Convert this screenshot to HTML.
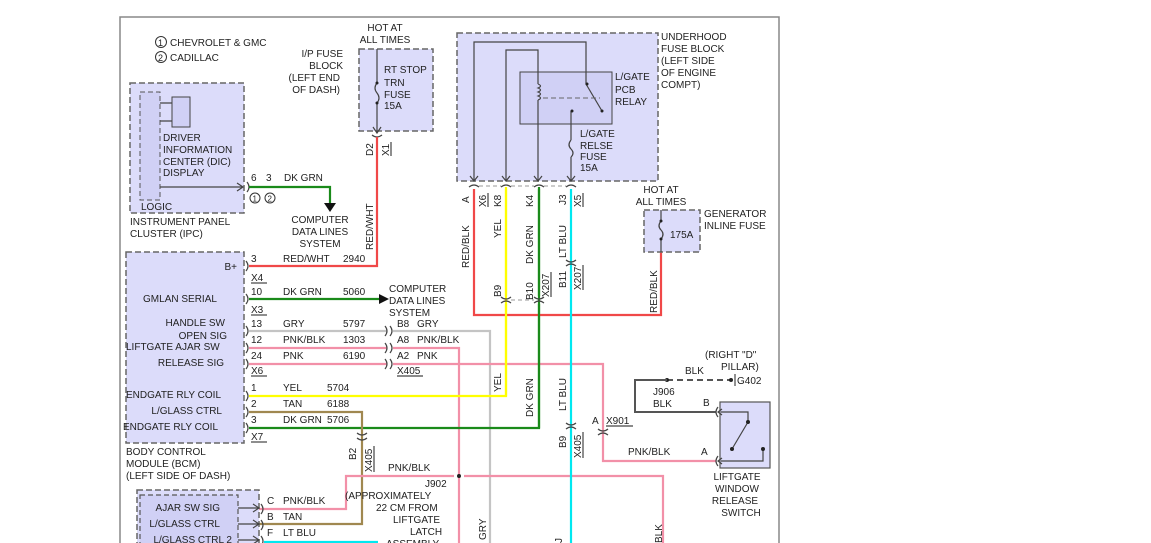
<!DOCTYPE html>
<html><head><meta charset="utf-8"><style>
html,body{margin:0;padding:0;background:#fff;}
svg{display:block;font-family:"Liberation Sans",Arial,sans-serif;font-size:10px;fill:#222;}
.bx{fill:#dcdcfa;stroke:#666;stroke-width:1.5;stroke-dasharray:6 3;}
.ln{fill:none;stroke-width:2.2;}
.k{fill:none;stroke:#444;stroke-width:1.2;}
text{fill:#222;}
</style></head><body>
<svg width="1151" height="543" viewBox="0 0 1151 543" xmlns="http://www.w3.org/2000/svg">
<path d="M120,543 V17 H779 V543" fill="none" stroke="#888" stroke-width="1.5"/>

<circle cx="161" cy="42" r="5.5" fill="none" stroke="#333"/><text x="158" y="46" font-size="9">1</text>
<text x="170" y="46">CHEVROLET &amp; GMC</text>
<circle cx="161" cy="57" r="5.5" fill="none" stroke="#333"/><text x="158" y="61" font-size="9">2</text>
<text x="170" y="61">CADILLAC</text>

<rect class="bx" x="130" y="83" width="114" height="130"/>
<rect x="140" y="92" width="20" height="108" fill="#d0d0f5" stroke="#555" stroke-dasharray="5 3"/>
<rect x="172" y="97" width="18" height="30" fill="#d0d0f5" stroke="#444"/>
<path class="k" d="M160,103H172M160,121H172"/>
<text x="163" y="141">DRIVER</text><text x="163" y="153">INFORMATION</text><text x="163" y="165">CENTER (DIC)</text><text x="163" y="176">DISPLAY</text>
<text x="141" y="210">LOGIC</text>
<path class="k" d="M160,187H243M237,183L243,187L237,191"/>
<path class="k" d="M247,182Q251,187 247,192"/>
<text x="251" y="181">6</text><text x="266" y="181">3</text><text x="284" y="181">DK GRN</text>
<circle cx="255" cy="198" r="5" fill="none" stroke="#333"/><text x="252.5" y="201.5" font-size="8">1</text>
<circle cx="270" cy="198" r="5" fill="none" stroke="#333"/><text x="267.5" y="201.5" font-size="8">2</text>
<path class="ln" stroke="#1a8a1a" d="M249,187H330V205"/>
<path d="M324,203H336L330,212Z" fill="#111"/>
<text x="320" y="223" text-anchor="middle">COMPUTER</text><text x="320" y="235" text-anchor="middle">DATA LINES</text><text x="320" y="247" text-anchor="middle">SYSTEM</text>
<text x="130" y="225">INSTRUMENT PANEL</text><text x="130" y="237">CLUSTER (IPC)</text>

<text x="343" y="57" text-anchor="end">I/P FUSE</text><text x="343" y="69" text-anchor="end">BLOCK</text><text x="340" y="81" text-anchor="end">(LEFT END</text><text x="340" y="93" text-anchor="end">OF DASH)</text>
<text x="385" y="31" text-anchor="middle">HOT AT</text><text x="385" y="43" text-anchor="middle">ALL TIMES</text>
<rect class="bx" x="359" y="49" width="74" height="82"/>
<path class="k" d="M377,49V83M377,103V133M373,127L377,133L381,127"/>
<path class="k" d="M377,83Q373,88 377,93Q381,98 377,103"/>
<circle cx="377" cy="83" r="1.5" fill="#222"/><circle cx="377" cy="103" r="1.5" fill="#222"/>
<text x="384" y="73">RT STOP</text><text x="384" y="86">TRN</text><text x="384" y="98">FUSE</text><text x="384" y="109">15A</text>
<path class="k" d="M372,135Q377,139 382,135"/>
<text transform="translate(373,156) rotate(-90)">D2</text>
<text transform="translate(389,156) rotate(-90)">X1</text><path class="k" d="M391,142V156"/>
<path class="ln" stroke="#f04848" d="M377,137V266H249"/>
<text transform="translate(373,250) rotate(-90)">RED/WHT</text>

<rect class="bx" x="126" y="252" width="118" height="191"/>
<text x="237" y="270" text-anchor="end">B+</text>
<text x="180" y="302" text-anchor="middle">GMLAN SERIAL</text>
<text x="225" y="326" text-anchor="end">HANDLE SW</text>
<text x="227" y="339" text-anchor="end">OPEN SIG</text>
<text x="126" y="350">LIFTGATE AJAR SW</text>
<text x="224" y="366" text-anchor="end">RELEASE SIG</text>
<text x="126" y="398">ENDGATE RLY COIL</text>
<text x="222" y="414" text-anchor="end">L/GLASS CTRL</text>
<text x="123" y="430">ENDGATE RLY COIL</text>
<text x="126" y="455">BODY CONTROL</text><text x="126" y="467">MODULE (BCM)</text><text x="126" y="479">(LEFT SIDE OF DASH)</text>
<g class="k">
<path d="M246,261Q250,266 246,271"/><path d="M246,294Q250,299 246,304"/><path d="M246,326Q250,331 246,336"/>
<path d="M246,343Q250,348 246,353"/><path d="M246,359Q250,364 246,369"/><path d="M246,391Q250,396 246,401"/>
<path d="M246,407Q250,412 246,417"/><path d="M246,423Q250,428 246,433"/>
</g>
<text x="251" y="262">3</text><text x="283" y="262">RED/WHT</text><text x="343" y="262">2940</text>
<text x="251" y="281">X4</text><path class="k" d="M251,283H267"/>
<text x="251" y="295">10</text><text x="283" y="295">DK GRN</text><text x="343" y="295">5060</text>
<path class="ln" stroke="#1a8a1a" d="M249,299H380"/><path d="M379,294L389,299L379,304Z" fill="#111"/>
<text x="251" y="313">X3</text><path class="k" d="M251,315H267"/>
<text x="389" y="292">COMPUTER</text><text x="389" y="304">DATA LINES</text><text x="389" y="316">SYSTEM</text>
<text x="251" y="327">13</text><text x="283" y="327">GRY</text><text x="343" y="327">5797</text>
<text x="251" y="343">12</text><text x="283" y="343">PNK/BLK</text><text x="343" y="343">1303</text>
<text x="251" y="359">24</text><text x="283" y="359">PNK</text><text x="343" y="359">6190</text>
<text x="251" y="374">X6</text><path class="k" d="M251,376H267"/>
<path class="ln" stroke="#c4c4c4" d="M249,331H387M393,331H490V543"/>
<path class="ln" stroke="#f290a8" d="M249,348H387M393,348H459V543"/>
<path class="ln" stroke="#f290a8" d="M249,364H387M393,364H603V461H716"/>
<g class="k"><path d="M385,326Q389,331 385,336M390,326Q394,331 390,336"/><path d="M385,343Q389,348 385,353M390,343Q394,348 390,353"/><path d="M385,359Q389,364 385,369M390,359Q394,364 390,369"/></g>
<text x="397" y="327">B8</text><text x="417" y="327">GRY</text>
<text x="397" y="343">A8</text><text x="417" y="343">PNK/BLK</text>
<text x="397" y="359">A2</text><text x="417" y="359">PNK</text>
<text x="397" y="374">X405</text><path class="k" d="M397,376H423"/>

<text x="251" y="391">1</text><text x="283" y="391">YEL</text><text x="327" y="391">5704</text>
<text x="251" y="407">2</text><text x="283" y="407">TAN</text><text x="327" y="407">6188</text>
<text x="251" y="423">3</text><text x="283" y="423">DK GRN</text><text x="327" y="423">5706</text>
<text x="251" y="440">X7</text><path class="k" d="M251,442H267"/>
<path class="ln" stroke="#ffff00" d="M249,396H506V187"/>
<path class="ln" stroke="#1a8a1a" d="M249,428H539V187"/>
<path class="ln" stroke="#a08850" d="M249,412H362V524H249"/>
<path class="k" d="M357,433Q362,437 367,433M357,438Q362,442 367,438"/>
<text transform="translate(356,460) rotate(-90)">B2</text>
<text transform="translate(372,472) rotate(-90)">X405</text><path class="k" d="M374,446V472"/>

<path class="ln" stroke="#f290a8" d="M249,509H346V476H454M464,476H663V543"/>
<circle cx="459" cy="476" r="2" fill="#222"/>
<text x="388" y="471">PNK/BLK</text><text x="425" y="487">J902</text>
<text x="345" y="499">(APPROXIMATELY</text><text x="376" y="511">22 CM FROM</text><text x="393" y="523">LIFTGATE</text><text x="410" y="535">LATCH</text><text x="386" y="547">ASSEMBLY</text>

<rect class="bx" x="137" y="490" width="122" height="60"/>
<rect x="140" y="495" width="98" height="60" fill="#d0d0f5" stroke="#555" stroke-width="1.2" stroke-dasharray="5 3"/>
<text x="220" y="511" text-anchor="end">AJAR SW SIG</text><text x="220" y="527" text-anchor="end">L/GLASS CTRL</text><text x="232" y="543" text-anchor="end">L/GLASS CTRL 2</text>
<path class="k" d="M238,508H259M253,504L259,508L253,512M238,524H259M253,520L259,524L253,528M238,540H259M253,536L259,540L253,544"/>
<g class="k"><path d="M261,504Q265,509 261,514"/><path d="M261,520Q265,525 261,530"/><path d="M261,536Q265,541 261,546"/></g>
<text x="267" y="504">C</text><text x="283" y="504">PNK/BLK</text>
<text x="267" y="520">B</text><text x="283" y="520">TAN</text>
<text x="267" y="536">F</text><text x="283" y="536">LT BLU</text>
<path class="ln" stroke="#00e8f0" d="M264,542H378"/>

<rect class="bx" x="457" y="33" width="201" height="148"/>
<rect x="520" y="72" width="92" height="52" fill="#d0d0f5" stroke="#444"/>
<path class="k" d="M474,181V42H586V84L602,111M506,181V50H538V84M538,100V181M571,181V157M571,140V111"/>
<path class="k" d="M538,84q5,2 0,4q5,2 0,4q5,2 0,4q5,2 0,4"/>
<path d="M543,98H600" stroke="#666" stroke-dasharray="5 3" fill="none"/>
<circle cx="587" cy="84" r="1.5" fill="#222"/><circle cx="602" cy="111" r="1.5" fill="#222"/><circle cx="572" cy="111" r="1.5" fill="#222"/>
<path class="k" d="M571,140Q567,145 571,149Q575,153 571,157"/>
<g class="k"><path d="M470,176L474,181L478,176M502,176L506,181L510,176M534,176L538,181L542,176M567,176L571,181L575,176"/></g>
<g class="k"><path d="M469,187Q474,183 479,187M501,187Q506,183 511,187M534,187Q539,183 544,187M566,187Q571,183 576,187"/></g>
<path d="M479,186H501M511,186H534M544,186H566" stroke="#999" stroke-dasharray="4 3" fill="none"/>
<text x="615" y="80">L/GATE</text><text x="615" y="93">PCB</text><text x="615" y="105">RELAY</text>
<text x="580" y="137">L/GATE</text><text x="580" y="149">RELSE</text><text x="580" y="160">FUSE</text><text x="580" y="171">15A</text>
<text x="661" y="40">UNDERHOOD</text><text x="661" y="52">FUSE BLOCK</text><text x="661" y="64">(LEFT SIDE</text><text x="661" y="76">OF ENGINE</text><text x="661" y="88">COMPT)</text>
<text transform="translate(469,203) rotate(-90)">A</text>
<text transform="translate(486,207) rotate(-90)">X6</text><path class="k" d="M488,193V207"/>
<text transform="translate(501,207) rotate(-90)">K8</text>
<text transform="translate(533,207) rotate(-90)">K4</text>
<text transform="translate(566,205) rotate(-90)">J3</text>
<text transform="translate(581,207) rotate(-90)">X5</text><path class="k" d="M583,193V207"/>
<path class="ln" stroke="#f04848" d="M474,189V315H661V232"/>
<path class="ln" stroke="#ffff00" d="M506,189V296M506,304V396"/>
<path class="ln" stroke="#1a8a1a" d="M539,189V296M539,304V428"/>
<path class="ln" stroke="#00e8f0" d="M571,189V543"/>
<text transform="translate(469,268) rotate(-90)">RED/BLK</text>
<text transform="translate(501,238) rotate(-90)">YEL</text>
<text transform="translate(533,264) rotate(-90)">DK GRN</text>
<text transform="translate(566,258) rotate(-90)">LT BLU</text>
<g class="k"><path d="M501,297Q506,301 511,297M501,303Q506,299 511,303"/><path d="M534,297Q539,301 544,297M534,303Q539,299 544,303"/><path d="M566,260Q571,264 576,260M566,266Q571,262 576,266"/></g>
<path d="M511,300H534" stroke="#999" stroke-dasharray="4 3" fill="none"/>
<text transform="translate(501,297) rotate(-90)">B9</text>
<text transform="translate(533,300) rotate(-90)">B10</text>
<text transform="translate(549,297) rotate(-90)">X207</text><path class="k" d="M551,272V297"/>
<text transform="translate(566,288) rotate(-90)">B11</text>
<text transform="translate(581,290) rotate(-90)">X207</text><path class="k" d="M583,265V290"/>
<text transform="translate(501,392) rotate(-90)">YEL</text>
<text transform="translate(533,417) rotate(-90)">DK GRN</text>
<text transform="translate(566,411) rotate(-90)">LT BLU</text>
<path class="k" d="M566,423Q571,427 576,423M566,429Q571,425 576,429"/>
<text transform="translate(566,448) rotate(-90)">B9</text>
<text transform="translate(581,458) rotate(-90)">X405</text><path class="k" d="M583,432V458"/>
<text transform="translate(486,540) rotate(-90)">GRY</text>
<text transform="translate(562,543) rotate(-90)">J</text>
<text transform="translate(662,543) rotate(-90)">BLK</text>

<text x="661" y="193" text-anchor="middle">HOT AT</text><text x="661" y="205" text-anchor="middle">ALL TIMES</text>
<rect class="bx" x="644" y="210" width="56" height="42"/>
<path class="k" d="M661,210V221M661,239V252M661,221Q657,226 661,230Q665,234 661,239"/>
<circle cx="661" cy="221" r="1.5" fill="#222"/><circle cx="661" cy="239" r="1.5" fill="#222"/>
<text x="670" y="238">175A</text>
<text x="704" y="217">GENERATOR</text><text x="704" y="229">INLINE FUSE</text>
<text transform="translate(657,313) rotate(-90)">RED/BLK</text>

<text x="705" y="358">(RIGHT "D"</text><text x="721" y="370">PILLAR)</text>
<text x="685" y="374">BLK</text>
<path d="M667,380H731" stroke="#555" stroke-width="2" stroke-dasharray="6 4" fill="none"/>
<circle cx="667" cy="380" r="2" fill="#222"/><circle cx="731" cy="380" r="2" fill="#222"/>
<path d="M735,374V386" stroke="#222"/><text x="737" y="384">G402</text>
<path d="M667,380H635V412H716" stroke="#555" stroke-width="2" fill="none"/>
<text x="653" y="395">J906</text><text x="653" y="407">BLK</text><text x="703" y="406">B</text>
<path class="k" d="M598,429Q603,433 608,429M598,435Q603,431 608,435"/>
<text x="592" y="424">A</text><text x="606" y="424">X901</text><path class="k" d="M606,426H633"/>
<text x="628" y="455">PNK/BLK</text><text x="701" y="455">A</text>
<rect x="720" y="402" width="50" height="66" fill="#dcdcfa" stroke="#555" stroke-width="1.2"/>
<path class="k" d="M721,412H748V422L732,449M763,449V461H721"/>
<path class="k" d="M722,409L718,412L722,415M722,458L718,461L722,464"/>
<g class="k"><path d="M718,407Q714,412 718,417"/><path d="M718,456Q714,461 718,466"/></g>
<circle cx="748" cy="422" r="2" fill="#222"/><circle cx="732" cy="449" r="2" fill="#222"/><circle cx="763" cy="449" r="2" fill="#222"/>
<text x="737" y="480" text-anchor="middle">LIFTGATE</text><text x="737" y="492" text-anchor="middle">WINDOW</text><text x="735" y="504" text-anchor="middle">RELEASE</text><text x="741" y="516" text-anchor="middle">SWITCH</text>
</svg>
</body></html>
